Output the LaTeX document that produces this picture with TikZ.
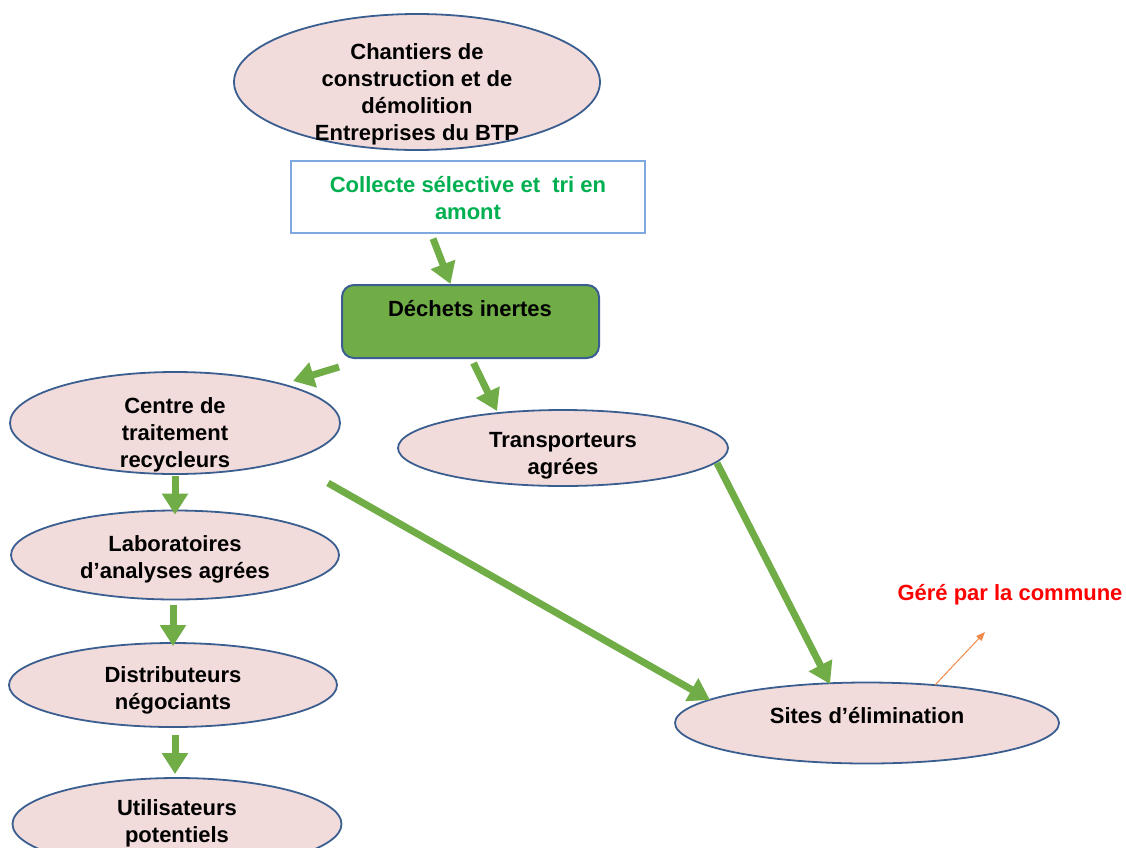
\documentclass[tikz,border=0pt]{standalone}
\usepackage{fontspec}
\setmainfont{Liberation Sans}
\usetikzlibrary{shapes.geometric,arrows.meta,calc}
\definecolor{ellfill}{HTML}{F2DCDB}
\definecolor{ellline}{HTML}{3B5E91}
\definecolor{boxline}{HTML}{7FA9DE}
\definecolor{garr}{HTML}{70AD47}
\definecolor{gtext}{HTML}{00B050}
\definecolor{otarr}{HTML}{F08A4B}
\tikzset{
  ell/.style={ellipse,draw=ellline,fill=ellfill,line width=1.8pt,inner sep=0pt},
  lbl/.style={align=center,font=\fontsize{22}{27}\selectfont\bfseries,inner sep=0pt},
  garrow/.style={draw=garr,line width=7pt,-{Triangle[length=21pt,width=25pt]}},
}
\begin{document}
\begin{tikzpicture}[x=1pt,y=-1pt]
\useasboundingbox[fill=white] (0,0) rectangle (1126,847);
% shapes
\node[ell,minimum width=366pt,minimum height=136pt] (chant) at (417,82) {};
\node[lbl] (tchant) at (417,94) {Chantiers de\\construction et de\\démolition\\Entreprises du BTP};
\node[draw=boxline,fill=white,line width=1.2pt,minimum width=354pt,minimum height=72pt,inner sep=0pt] (coll) at (468,197) {};
\node[lbl,text=gtext] (tcoll) at (468,198) {Collecte sélective et \ tri en\\amont};
\node[draw=ellline,fill=garr,line width=2pt,rounded corners=12pt,minimum width=257pt,minimum height=73pt,inner sep=0pt] (dech) at (470.5,321.5) {};
\node[lbl] (tdech) at (470,309) {Déchets inertes};
\node[ell,minimum width=330pt,minimum height=102pt] (centre) at (175,423) {};
\node[lbl] (tcentre) at (175,435) {Centre de\\traitement\\recycleurs};
\node[ell,minimum width=330pt,minimum height=76pt] (transp) at (563,448) {};
\node[lbl] (ttransp) at (563,456) {Transporteurs\\agrées};
\node[ell,minimum width=328pt,minimum height=89pt] (labo) at (175,555) {};
\node[lbl] (tlabo) at (175,559) {Laboratoires\\d’analyses agrées};
\node[ell,minimum width=328pt,minimum height=84pt] (distr) at (173,685) {};
\node[lbl] (tdistr) at (173,690) {Distributeurs\\négociants};
\node[ell,minimum width=329pt,minimum height=92pt] (util) at (177,824) {};
\node[lbl] (tutil) at (177,823) {Utilisateurs\\potentiels};
\node[ell,minimum width=384pt,minimum height=81pt] (sites) at (867,723) {};
\node[lbl] (tsites) at (867,716) {Sites d’élimination};
\node[lbl,text=red] (gere) at (1010,595) {Géré par la commune};
% arrows
\draw[garrow] ([xshift=-35pt,yshift=-5pt]coll.south) -- ([xshift=-20pt]dech.north);
\draw[garrow] ([xshift=-2pt,yshift=-8pt]dech.south west) -- ([xshift=118pt,yshift=42pt]centre.center);
\draw[garrow] ([xshift=3pt,yshift=-4pt]dech.south) -- ([xshift=-66pt,yshift=37pt]transp.center);
\draw[garrow] ([yshift=-1pt]centre.south) -- ([yshift=-5pt]labo.north);
\draw[garrow] ([xshift=-2pt,yshift=-5pt]labo.south) -- ([yshift=-4pt]distr.north);
\draw[garrow] ([xshift=2pt,yshift=-7pt]distr.south) -- ([xshift=-2pt,yshift=3pt]util.north);
\draw[garrow] ([xshift=153pt,yshift=-60pt]centre.center) -- ([xshift=-157pt,yshift=23pt]sites.center);
\draw[garrow] ([xshift=154pt,yshift=-15pt]transp.center) -- ([xshift=-37pt,yshift=39pt]sites.center);
\coordinate (gend) at ([xshift=-25pt,yshift=-37pt]gere.center);
\draw[draw=otarr,line width=1pt,-{Triangle[length=9pt,width=7pt]}] ([xshift=68pt,yshift=38pt]sites.center) -- (gend);
\end{tikzpicture}
\end{document}
